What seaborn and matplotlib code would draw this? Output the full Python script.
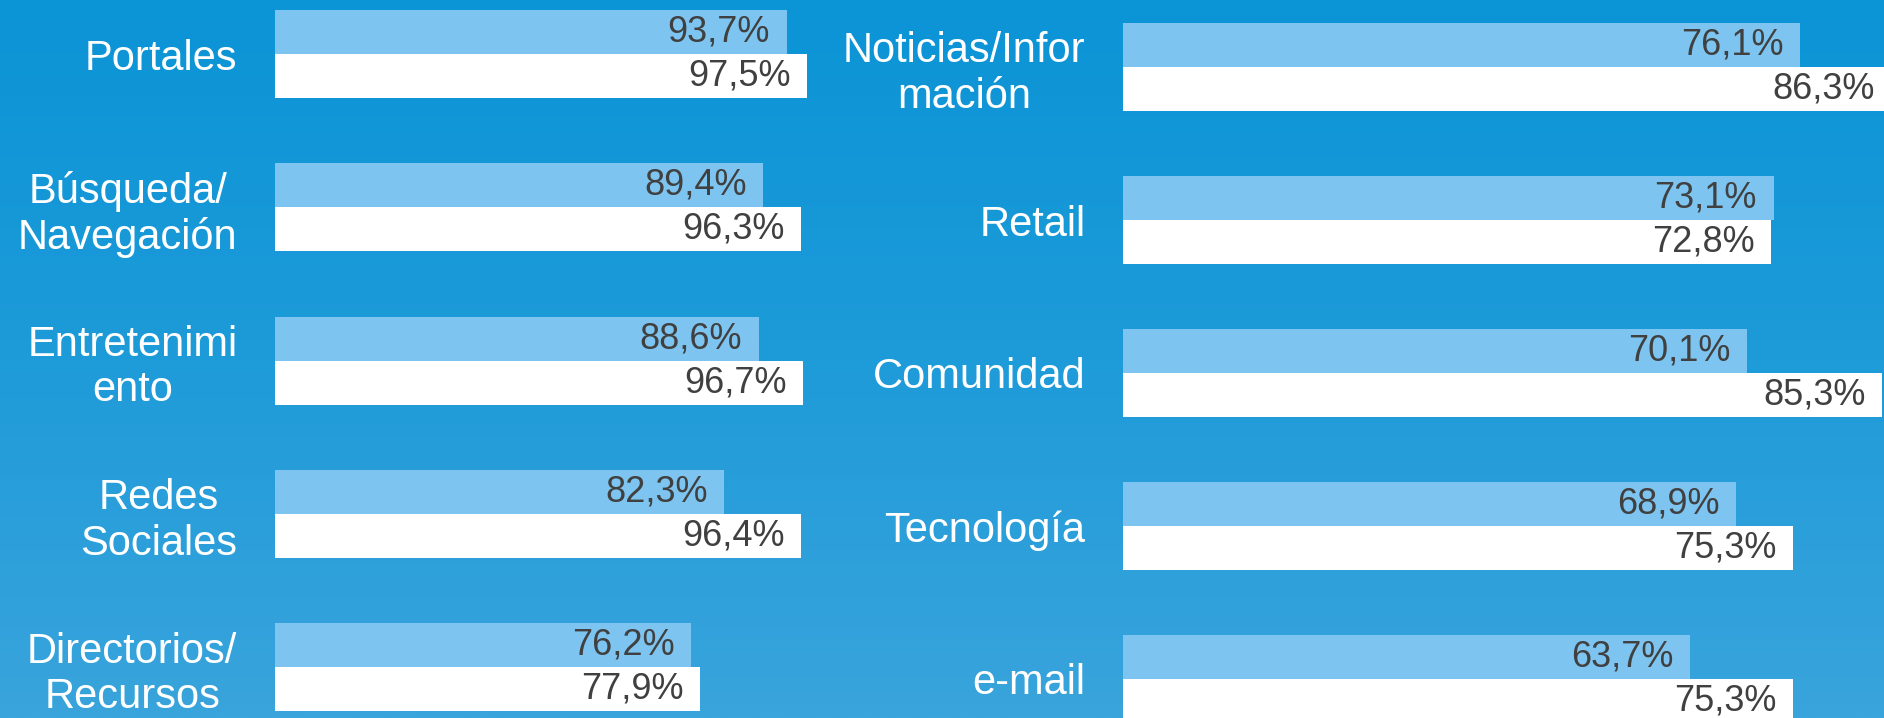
import numpy as np
import pandas as pd
import matplotlib
matplotlib.use("Agg")
import matplotlib.pyplot as plt
import seaborn as sns
from matplotlib.colors import LinearSegmentedColormap

# Datos del gráfico (dos series por categoría)
cat_izq = ["Portales", "Búsqueda/\nNavegación", "Entretenimi\nento",
           "Redes\nSociales", "Directorios/\nRecursos"]
serie1_izq = [93.7, 89.4, 88.6, 82.3, 76.2]
serie2_izq = [97.5, 96.3, 96.7, 96.4, 77.9]

cat_der = ["Noticias/Infor\nmación", "Retail", "Comunidad", "Tecnología", "e-mail"]
serie1_der = [76.1, 73.1, 70.1, 68.9, 63.7]
serie2_der = [86.3, 72.8, 85.3, 75.3, 75.3]

series = ["serie 1", "serie 2"]
colores = {"serie 1": "#7dc5f0", "serie 2": "#ffffff"}


def armar_df(cats, s1, s2):
    return pd.DataFrame({
        "categoria": cats * 2,
        "valor": s1 + s2,
        "serie": [series[0]] * len(cats) + [series[1]] * len(cats),
    })


sns.set_style("white")
plt.rcParams["font.family"] = ["Liberation Sans", "DejaVu Sans"]

W, H = 1884, 718
fig = plt.figure(figsize=(W / 100, H / 100), dpi=100)

# fondo degradado azul
bg = fig.add_axes([0, 0, 1, 1], zorder=-10)
cmap = LinearSegmentedColormap.from_list("fondo", ["#0b94d6", "#1e9bd9", "#3aa4dc"])
bg.imshow(np.linspace(0, 1, 256).reshape(-1, 1), aspect="auto", cmap=cmap,
          extent=[0, 1, 0, 1], origin="upper")
bg.axis("off")


def panel(x0, x1, xmax, y_top, pitch, cats, s1, s2):
    ax = fig.add_axes([x0 / W, 0, (x1 - x0) / W, 1])
    df = armar_df(cats, s1, s2)
    sns.barplot(data=df, y="categoria", x="valor", hue="serie", hue_order=series,
                palette=colores, orient="h", width=88 / pitch, saturation=1,
                edgecolor="none", linewidth=0, legend=False, ax=ax)
    ax.set_xlim(0, xmax)
    top = -y_top / pitch
    bottom = top + H / pitch
    ax.set_ylim(bottom, top)
    ax.patch.set_visible(False)
    for s in ax.spines.values():
        s.set_visible(False)
    ax.set_xticks([])
    ax.set_xlabel("")
    ax.set_ylabel("")
    ax.tick_params(axis="y", length=0, pad=27)
    for lbl in ax.get_yticklabels():
        lbl.set_color("white")
        lbl.set_fontsize(30)
        lbl.set_multialignment("center")
        lbl.set_linespacing(1.17)
    for cont in ax.containers:
        for bar in cont:
            w = bar.get_width()
            yc = bar.get_y() + bar.get_height() / 2
            txt = f"{w:.1f}".replace(".", ",") + "%"
            ax.annotate(txt, (w, yc), xytext=(-12, 0), textcoords="offset points",
                        ha="right", va="center", fontsize=26, color="#404040",
                        annotation_clip=False)
    return ax


panel(275, 821, 100, 54, 153.25, cat_izq, serie1_izq, serie2_izq)
panel(1123, 1884, (1884 - 1123) / 8.9, 67, 153.0, cat_der, serie1_der, serie2_der)

fig.savefig("out.png", dpi=100)
